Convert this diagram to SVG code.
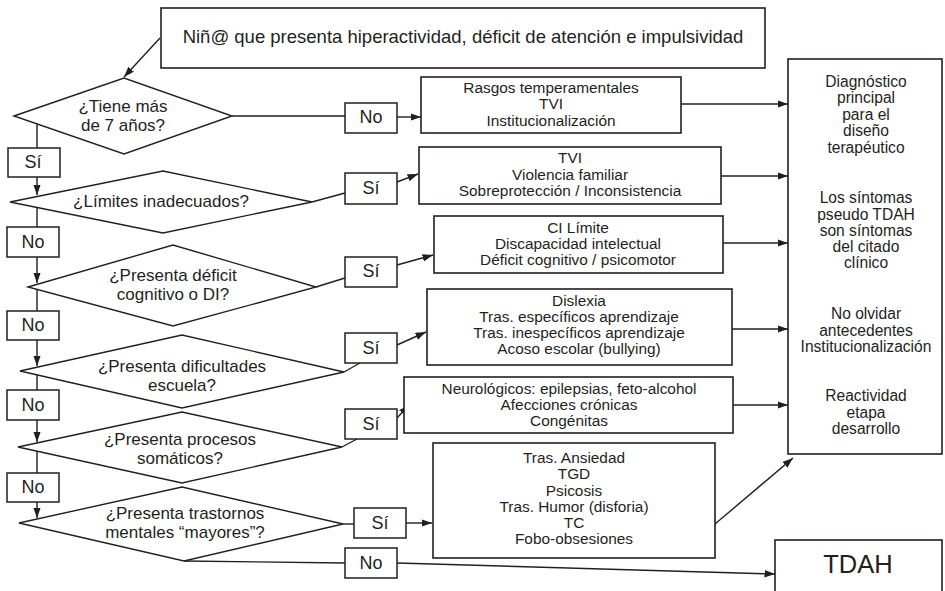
<svg xmlns="http://www.w3.org/2000/svg" width="945" height="591" viewBox="0 0 945 591">
  <style>
    .box { fill: #ffffff; stroke: #231f20; stroke-width: 1.6; }
    .dia { fill: #ffffff; stroke: #231f20; stroke-width: 1.4; }
    .lbl { fill: #ffffff; stroke: #231f20; stroke-width: 1.5; }
    .con { fill: none; stroke: #231f20; stroke-width: 1.4; }
    .arr { marker-end: url(#head); }
    text { font-family: "Liberation Sans", Arial, sans-serif; fill: #231f20; text-anchor: middle; }
    .t-top { font-size: 18.5px; }
    .t-dia { font-size: 17px; }
    .t-box { font-size: 15.4px; }
    .t-side { font-size: 15.6px; }
    .t-lbl { font-size: 18px; }
    .t-end { font-size: 25.5px; }
  </style>
  <defs>
    <marker id="head" markerUnits="userSpaceOnUse" markerWidth="11" markerHeight="8" refX="10.5" refY="3.75" orient="auto">
      <path d="M0,0 L10.5,3.75 L0,7.5 z" fill="#231f20"/>
    </marker>
  </defs>

  <!-- connectors -->
  <g id="connectors">
    <line class="con arr" x1="160" y1="38" x2="124" y2="77"/>
    <!-- row 1 -->
    <line class="con" x1="232" y1="116" x2="345" y2="116"/>
    <line class="con arr" x1="397" y1="117" x2="421" y2="117"/>
    <line class="con arr" x1="681" y1="104" x2="788" y2="104"/>
    <!-- row 2 -->
    <line class="con" x1="312" y1="202" x2="345" y2="193"/>
    <line class="con arr" x1="397" y1="182" x2="418" y2="174"/>
    <line class="con arr" x1="721" y1="176" x2="788" y2="176"/>
    <!-- row 3 -->
    <line class="con" x1="316" y1="287" x2="345" y2="278"/>
    <line class="con arr" x1="397" y1="265" x2="433" y2="255"/>
    <line class="con arr" x1="723" y1="243" x2="788" y2="243"/>
    <!-- row 4 -->
    <line class="con" x1="344" y1="372" x2="360" y2="363"/>
    <line class="con arr" x1="397" y1="345" x2="426" y2="332"/>
    <line class="con arr" x1="732" y1="329" x2="788" y2="329"/>
    <!-- row 5 -->
    <line class="con" x1="342" y1="447" x2="357" y2="439"/>
    <line class="con arr" x1="397" y1="418" x2="409" y2="405"/>
    <line class="con arr" x1="733" y1="405" x2="788" y2="405"/>
    <!-- row 6 -->
    <line class="con" x1="343" y1="524" x2="354" y2="524"/>
    <line class="con arr" x1="406" y1="523" x2="432" y2="523"/>
    <line class="con arr" x1="715" y1="524" x2="793" y2="458"/>
    <line class="con" x1="184" y1="561" x2="345" y2="563"/>
    <line class="con arr" x1="397" y1="563" x2="775" y2="574"/>
    <!-- left column -->
    <line class="con" x1="37" y1="124" x2="37" y2="148"/>
    <line class="con arr" x1="37" y1="177" x2="37" y2="195"/>
    <line class="con" x1="37" y1="208" x2="37" y2="227"/>
    <line class="con arr" x1="37" y1="257" x2="37" y2="283"/>
    <line class="con" x1="37" y1="290" x2="37" y2="311"/>
    <line class="con arr" x1="37" y1="340" x2="37" y2="366"/>
    <line class="con" x1="37" y1="375" x2="37" y2="390"/>
    <line class="con arr" x1="37" y1="420" x2="37" y2="442"/>
    <line class="con" x1="37" y1="451" x2="37" y2="473"/>
    <line class="con arr" x1="37" y1="502" x2="37" y2="518"/>
  </g>

  <!-- start -->
  <g id="start">
    <rect class="box" x="161" y="8" width="604" height="60"/>
    <text class="t-top" x="463" y="43">Niñ@ que presenta hiperactividad, déficit de atención e impulsividad</text>
  </g>

  <!-- decisions -->
  <g id="q-edad">
    <polygon class="dia" points="14,116 124,78 232,116 124,154"/>
    <text class="t-dia" x="123" y="112">¿Tiene más</text>
    <text class="t-dia" x="123" y="131">de 7 años?</text>
  </g>
  <g id="q-limites">
    <polygon class="dia" points="10,202 163,171 312,202 163,233"/>
    <text class="t-dia" x="161" y="207">¿Límites inadecuados?</text>
  </g>
  <g id="q-cognitivo">
    <polygon class="dia" points="28,287 173,245 316,287 173,326"/>
    <text class="t-dia" x="173" y="281">¿Presenta déficit</text>
    <text class="t-dia" x="173" y="300">cognitivo o DI?</text>
  </g>
  <g id="q-escuela">
    <polygon class="dia" points="20,371 182,335 344,372 182,408"/>
    <text class="t-dia" x="182" y="372">¿Presenta dificultades</text>
    <text class="t-dia" x="182" y="391">escuela?</text>
  </g>
  <g id="q-somaticos">
    <polygon class="dia" points="18,447 182,412 342,447 182,483"/>
    <text class="t-dia" x="180" y="445">¿Presenta procesos</text>
    <text class="t-dia" x="180" y="464">somáticos?</text>
  </g>
  <g id="q-mentales">
    <polygon class="dia" points="19,523 182,487 343,524 184,561"/>
    <text class="t-dia" x="185" y="519">¿Presenta trastornos</text>
    <text class="t-dia" x="185" y="538">mentales “mayores”?</text>
  </g>

  <!-- answer labels -->
  <g id="lbl-no-1"><rect class="lbl" x="345" y="103" width="52" height="30"/><text class="t-lbl" x="371" y="123">No</text></g>
  <g id="lbl-si-1"><rect class="lbl" x="8" y="148" width="52" height="29"/><text class="t-lbl" x="33" y="168">Sí</text></g>
  <g id="lbl-si-2"><rect class="lbl" x="345" y="173" width="52" height="31"/><text class="t-lbl" x="371" y="194">Sí</text></g>
  <g id="lbl-no-2"><rect class="lbl" x="7" y="227" width="52" height="30"/><text class="t-lbl" x="33" y="248">No</text></g>
  <g id="lbl-si-3"><rect class="lbl" x="345" y="257" width="52" height="30"/><text class="t-lbl" x="371" y="277">Sí</text></g>
  <g id="lbl-no-3"><rect class="lbl" x="7" y="311" width="52" height="29"/><text class="t-lbl" x="33" y="331">No</text></g>
  <g id="lbl-si-4"><rect class="lbl" x="345" y="333" width="52" height="30"/><text class="t-lbl" x="371" y="354">Sí</text></g>
  <g id="lbl-no-4"><rect class="lbl" x="7" y="390" width="52" height="30"/><text class="t-lbl" x="33" y="411">No</text></g>
  <g id="lbl-si-5"><rect class="lbl" x="345" y="409" width="52" height="30"/><text class="t-lbl" x="371" y="430">Sí</text></g>
  <g id="lbl-no-5"><rect class="lbl" x="7" y="473" width="52" height="29"/><text class="t-lbl" x="33" y="493">No</text></g>
  <g id="lbl-si-6"><rect class="lbl" x="354" y="508" width="52" height="30"/><text class="t-lbl" x="380" y="529">Sí</text></g>
  <g id="lbl-no-6"><rect class="lbl" x="345" y="548" width="52" height="30"/><text class="t-lbl" x="371" y="569">No</text></g>

  <!-- cause boxes -->
  <g id="c-temperamento">
    <rect class="box" x="421" y="77" width="260" height="56"/>
    <text class="t-box" x="551" y="93">Rasgos temperamentales</text>
    <text class="t-box" x="551" y="109">TVI</text>
    <text class="t-box" x="551" y="126">Institucionalización</text>
  </g>
  <g id="c-familia">
    <rect class="box" x="419" y="147" width="302" height="57"/>
    <text class="t-box" x="570" y="163">TVI</text>
    <text class="t-box" x="570" y="180">Violencia familiar</text>
    <text class="t-box" x="570" y="196">Sobreprotección / Inconsistencia</text>
  </g>
  <g id="c-cognitivo">
    <rect class="box" x="434" y="216" width="289" height="57"/>
    <text class="t-box" x="578" y="233">CI Límite</text>
    <text class="t-box" x="578" y="249">Discapacidad intelectual</text>
    <text class="t-box" x="578" y="265">Déficit cognitivo / psicomotor</text>
  </g>
  <g id="c-escuela">
    <rect class="box" x="427" y="289" width="305" height="76"/>
    <text class="t-box" x="579" y="306">Dislexia</text>
    <text class="t-box" x="579" y="322">Tras. específicos aprendizaje</text>
    <text class="t-box" x="579" y="338">Tras. inespecíficos aprendizaje</text>
    <text class="t-box" x="579" y="354">Acoso escolar (bullying)</text>
  </g>
  <g id="c-somaticos">
    <rect class="box" x="404" y="377" width="329" height="56"/>
    <text class="t-box" x="569" y="394">Neurológicos: epilepsias, feto-alcohol</text>
    <text class="t-box" x="569" y="410">Afecciones crónicas</text>
    <text class="t-box" x="569" y="426">Congénitas</text>
  </g>
  <g id="c-mentales">
    <rect class="box" x="433" y="443" width="282" height="115"/>
    <text class="t-box" x="574" y="463">Tras. Ansiedad</text>
    <text class="t-box" x="574" y="479">TGD</text>
    <text class="t-box" x="574" y="496">Psicosis</text>
    <text class="t-box" x="574" y="512">Tras. Humor (disforia)</text>
    <text class="t-box" x="574" y="528">TC</text>
    <text class="t-box" x="574" y="544">Fobo-obsesiones</text>
  </g>

  <!-- outcome panel -->
  <g id="diagnostico">
    <rect class="box" x="788" y="59" width="154" height="395"/>
    <text class="t-side" x="866" y="87">Diagnóstico</text>
    <text class="t-side" x="866" y="103">principal</text>
    <text class="t-side" x="866" y="120">para el</text>
    <text class="t-side" x="866" y="136">diseño</text>
    <text class="t-side" x="866" y="153">terapéutico</text>
    <text class="t-side" x="866" y="203">Los síntomas</text>
    <text class="t-side" x="866" y="220">pseudo TDAH</text>
    <text class="t-side" x="866" y="236">son síntomas</text>
    <text class="t-side" x="866" y="252">del citado</text>
    <text class="t-side" x="866" y="268">clínico</text>
    <text class="t-side" x="866" y="319">No olvidar</text>
    <text class="t-side" x="866" y="336">antecedentes</text>
    <text class="t-side" x="866" y="352">Institucionalización</text>
    <text class="t-side" x="866" y="401">Reactividad</text>
    <text class="t-side" x="866" y="418">etapa</text>
    <text class="t-side" x="866" y="434">desarrollo</text>
  </g>

  <g id="tdah">
    <rect class="box" x="775" y="540" width="167" height="62"/>
    <text class="t-end" x="858" y="573">TDAH</text>
  </g>
</svg>
